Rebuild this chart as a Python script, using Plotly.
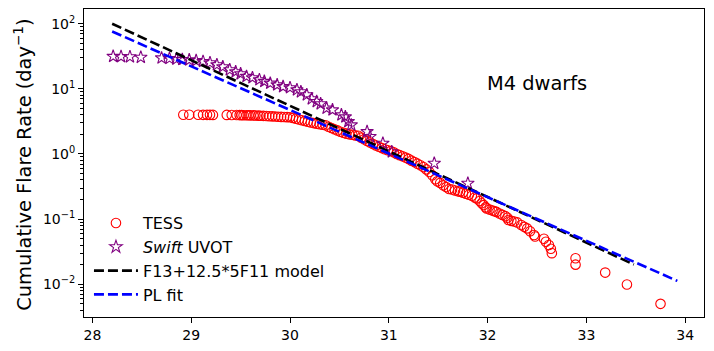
"""Cumulative flare frequency distribution for M4 dwarfs."""

import plotly.graph_objects as go

# TESS cumulative flare rate: log10 flare energy (erg) vs rate (day^-1)
tess_energy = [
    28.92, 28.98, 29.07, 29.12, 29.16, 29.19, 29.22, 29.36, 29.41,
    29.46, 29.49, 29.51, 29.53, 29.56, 29.58, 29.60, 29.63, 29.65, 29.68,
    29.70, 29.73, 29.76, 29.79, 29.82, 29.85, 29.88, 29.91, 29.94, 29.97,
    30.00, 30.03, 30.06, 30.09, 30.12, 30.15, 30.18, 30.21, 30.24, 30.27,
    30.30, 30.33, 30.36, 30.39, 30.42, 30.45, 30.48, 30.51, 30.54, 30.57,
    30.60, 30.63, 30.66, 30.69, 30.72, 30.75, 30.78, 30.81, 30.84, 30.87,
    30.90, 30.93, 30.96, 30.99, 31.02, 31.05, 31.08, 31.11, 31.14, 31.17,
    31.20, 31.23, 31.26, 31.29, 31.32, 31.35, 31.38, 31.41, 31.44, 31.47,
    31.49, 31.52, 31.55, 31.58, 31.61, 31.64, 31.67, 31.70, 31.72, 31.75,
    31.78, 31.81, 31.84, 31.87, 31.89, 31.92, 31.94, 31.96, 31.98, 31.99,
    32.02, 32.05, 32.07, 32.09, 32.12, 32.15, 32.18, 32.20, 32.21, 32.24,
    32.27, 32.30, 32.34, 32.37, 32.40, 32.43, 32.47, 32.48, 32.57, 32.59,
    32.62, 32.64, 32.65, 32.89, 32.89, 33.19, 33.41, 33.75,
]
tess_rate = [
    4.00, 4.00, 4.00, 3.99, 3.99, 3.99, 3.98, 3.98, 3.97,
    3.96, 3.95, 3.95, 3.94, 3.93, 3.93, 3.92, 3.91, 3.90, 3.88,
    3.87, 3.85, 3.83, 3.80, 3.78, 3.76, 3.73, 3.71, 3.70, 3.68,
    3.66, 3.58, 3.48, 3.38, 3.30, 3.21, 3.13, 3.05, 2.98, 2.92,
    2.86, 2.81, 2.76, 2.62, 2.50, 2.40, 2.30, 2.20, 2.12, 2.05,
    2.00, 1.97, 1.93, 1.90, 1.78, 1.68, 1.58, 1.50, 1.42, 1.35,
    1.29, 1.23, 1.18, 1.14, 1.11, 1.06, 1.00, 0.96, 0.92, 0.88,
    0.84, 0.79, 0.75, 0.71, 0.67, 0.63, 0.58, 0.53, 0.47, 0.41,
    0.38, 0.36, 0.33, 0.31, 0.29, 0.285, 0.275, 0.268, 0.263, 0.255,
    0.245, 0.237, 0.228, 0.215, 0.208, 0.19, 0.175, 0.164, 0.152, 0.146,
    0.140, 0.135, 0.132, 0.129, 0.122, 0.116, 0.111, 0.105, 0.097, 0.094,
    0.092, 0.089, 0.081, 0.076, 0.072, 0.065, 0.057, 0.054, 0.050, 0.045,
    0.040, 0.035, 0.030, 0.025, 0.020, 0.0151, 0.0099, 0.0050,
]

# Swift UVOT cumulative flare rate
swift_energy = [
    28.21, 28.29, 28.38, 28.49, 28.70, 28.78, 28.85, 28.91, 28.98, 29.05,
    29.12, 29.19, 29.26, 29.32, 29.39, 29.45, 29.50, 29.56, 29.62, 29.69,
    29.74, 29.80, 29.87, 29.93, 30.00, 30.07, 30.11, 30.17, 30.22, 30.27,
    30.31, 30.37, 30.43, 30.52, 30.56, 30.59, 30.62, 30.78, 30.81, 30.94,
    31.03, 31.46, 31.80,
]
swift_rate = [
    31.5, 31.2, 31.0, 30.5, 29.8, 29.2, 28.6, 28.2, 27.8, 27.1,
    26.3, 25.1, 23.4, 21.8, 19.6, 18.3, 17.0, 15.5, 14.8, 13.8,
    13.0, 12.2, 11.5, 10.8, 10.4, 9.66, 9.0, 8.09, 7.02, 6.38,
    5.88, 5.05, 4.75, 3.98, 3.71, 3.14, 2.79, 2.20, 1.85, 1.46,
    1.08, 0.719, 0.354,
]

# model and power-law fit lines
model_energy = [28.20, 33.48]
model_rate = [100.0, 0.0201]
pl_energy = [28.20, 33.92]
pl_rate = [76.0, 0.01125]

# axis ticks
x_ticks = [28, 29, 30, 31, 32, 33, 34]
y_ticks = [0.01, 0.1, 1, 10, 100]
y_ticktext = ["10<sup>\u22122</sup>", "10<sup>\u22121</sup>", "10<sup>0</sup>",
              "10<sup>1</sup>", "10<sup>2</sup>"]

FONT = "DejaVu Sans"

fig = go.Figure()
fig.add_trace(
    go.Scatter(
        x=tess_energy,
        y=tess_rate,
        mode="markers",
        name="TESS",
        marker=dict(symbol="circle-open", size=9.5, color="red", line=dict(width=1.1)),
    )
)
fig.add_trace(
    go.Scatter(
        x=swift_energy,
        y=swift_rate,
        mode="markers",
        name="<i>Swift</i> UVOT",
        marker=dict(symbol="star-open", size=9.5, color="purple", line=dict(width=1.1)),
    )
)
fig.add_trace(
    go.Scatter(
        x=model_energy,
        y=model_rate,
        mode="lines",
        name="F13+12.5*5F11 model",
        line=dict(color="black", width=2.6, dash="10px,4px"),
    )
)
fig.add_trace(
    go.Scatter(
        x=pl_energy,
        y=pl_rate,
        mode="lines",
        name="PL fit",
        line=dict(color="blue", width=2.6, dash="10px,4px"),
    )
)

fig.add_annotation(
    text="M4 dwarfs",
    x=32.0,
    y=1.0,
    xref="x",
    yref="y",
    xanchor="left",
    yanchor="bottom",
    xshift=-3,
    yshift=-8,
    showarrow=False,
    font=dict(family=FONT, size=19.4, color="black"),
)
# y axis title, placed by hand
fig.add_annotation(
    text="Cumulative Flare Rate (day<sup>\u22121</sup>)",
    x=-0.0985,
    y=0.494,
    xref="paper",
    yref="paper",
    xanchor="center",
    yanchor="middle",
    textangle=-90,
    showarrow=False,
    font=dict(family=FONT, size=19.4, color="black"),
)

fig.update_layout(
    width=714,
    height=351,
    margin=dict(l=84, r=10, t=9, b=34),
    paper_bgcolor="white",
    plot_bgcolor="white",
    font=dict(family=FONT, size=14, color="black"),
    showlegend=True,
    legend=dict(
        x=0.008,
        y=0.36,
        xanchor="left",
        yanchor="top",
        bgcolor="rgba(0,0,0,0)",
        font=dict(family=FONT, size=16),
        itemwidth=44,
    ),
)
fig.update_xaxes(
    range=[27.915, 34.19],
    tickvals=x_ticks,
    ticks="outside",
    ticklen=5,
    tickwidth=1,
    tickcolor="black",
    showline=True,
    linecolor="black",
    linewidth=1,
    mirror=True,
    showgrid=False,
    zeroline=False,
    automargin=False,
)
fig.update_yaxes(
    type="log",
    range=[-2.503, 2.226],
    tickvals=y_ticks,
    ticktext=y_ticktext,
    ticks="outside",
    ticklen=5,
    tickwidth=1,
    tickcolor="black",
    minor=dict(ticks="outside", ticklen=3, tickcolor="black", dtick="D1", showgrid=False),
    showline=True,
    linecolor="black",
    linewidth=1,
    mirror=True,
    showgrid=False,
    zeroline=False,
    automargin=False,
)

# page body has a default 8px margin; drop it so the figure sits at the corner
fig.write_html(
    "out.html",
    config={"displayModeBar": False},
    post_script="document.body.style.margin = '0px';",
)
